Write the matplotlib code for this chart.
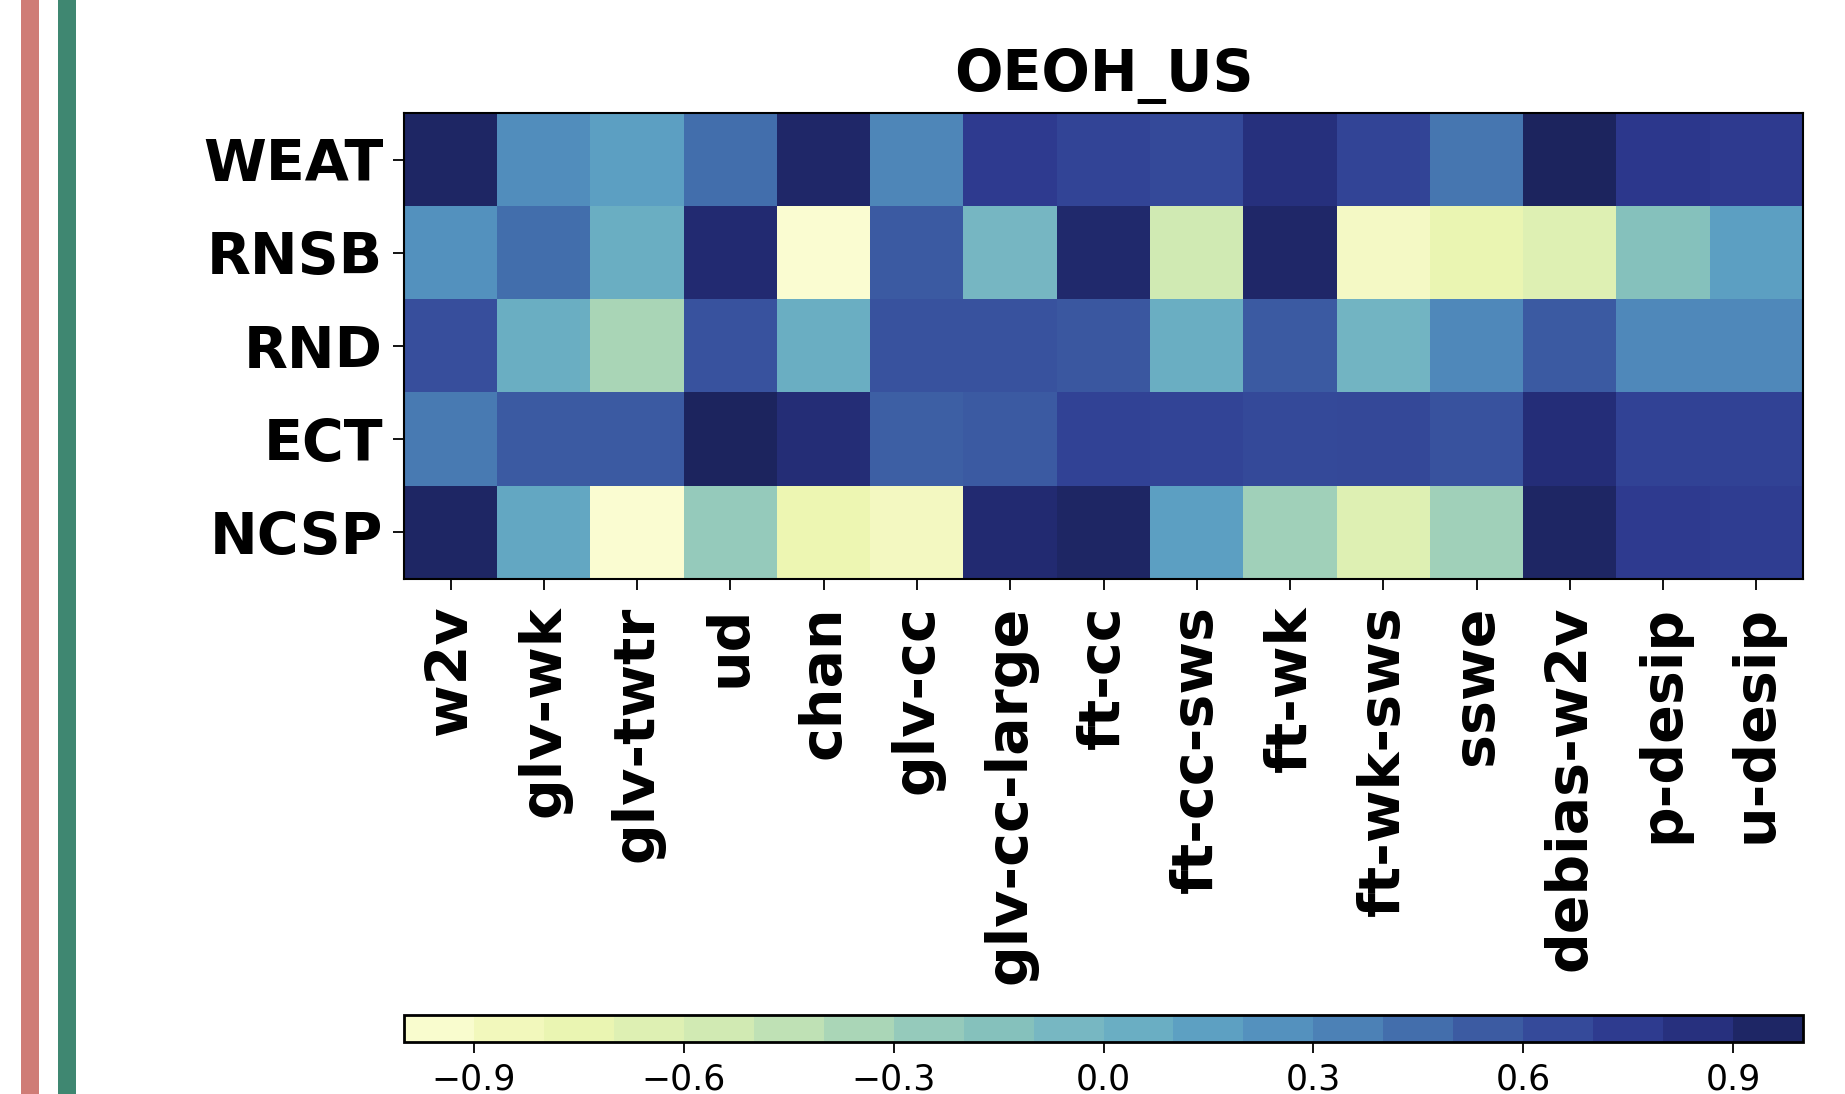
import numpy as np
import matplotlib
matplotlib.use("Agg")
import matplotlib.pyplot as plt
from matplotlib.colors import LinearSegmentedColormap
from matplotlib.patches import Rectangle

# data, rows = bias metrics, columns = embeddings
metrics = ["WEAT", "RNSB", "RND", "ECT", "NCSP"]
embeddings = ["w2v", "glv-wk", "glv-twtr", "ud", "chan", "glv-cc", "glv-cc-large",
              "ft-cc", "ft-cc-sws", "ft-wk", "ft-wk-sws", "sswe", "debias-w2v",
              "p-desip", "u-desip"]

weat = [0.95, 0.28, 0.15, 0.45, 0.93, 0.32, 0.75, 0.68, 0.65, 0.85, 0.68, 0.40, 0.97, 0.78, 0.75]
rnsb = [0.25, 0.45, 0.05, 0.90, -0.97, 0.55, -0.05, 0.92, -0.55, 0.93, -0.90, -0.75, -0.65, -0.15, 0.15]
rnd = [0.62, 0.05, -0.35, 0.60, 0.05, 0.60, 0.60, 0.57, 0.05, 0.55, -0.02, 0.30, 0.55, 0.30, 0.30]
ect = [0.38, 0.55, 0.55, 0.97, 0.88, 0.53, 0.55, 0.70, 0.68, 0.65, 0.66, 0.60, 0.87, 0.70, 0.70]
ncsp = [0.95, 0.10, -0.97, -0.25, -0.78, -0.88, 0.90, 0.95, 0.15, -0.30, -0.65, -0.30, 0.95, 0.75, 0.73]

title = "OEOH_US"
cbar_ticks = [-0.9, -0.6, -0.3, 0.0, 0.3, 0.6, 0.9]

# muted YlGnBu as it shows in the original
cmap_colors = ["#fdfed6", "#f4f9c3", "#eff7b2", "#e2f2b3", "#d5ecb3", "#c4e4b5", "#aed8b6",
               "#98ccbb", "#86c2bc", "#77b7c2", "#6aaec3", "#5c9fc2", "#5390be", "#4a7db4",
               "#416aaa", "#3a56a0", "#334597", "#2c368c", "#232c74", "#1a2258"]
cmap = LinearSegmentedColormap.from_list("muted_ylgnbu", cmap_colors)

W, H = 1845, 1094
fig = plt.figure(figsize=(W / 100, H / 100), dpi=100)

# the two coloured strips at the left edge
fig.add_artist(Rectangle((21 / W, 0), 18 / W, 1, transform=fig.transFigure,
                         color="#cf7c76", lw=0))
fig.add_artist(Rectangle((58 / W, 0), 18 / W, 1, transform=fig.transFigure,
                         color="#3f8771", lw=0))

left, right = 404 / W, 1803 / W
ax = fig.add_axes([left, 1 - 579 / H, right - left, 466 / H])
cax = fig.add_axes([left, 1 - 1042 / H, right - left, 27 / H])

data = np.array([weat, rnsb, rnd, ect, ncsp])
im = ax.imshow(data, cmap=cmap, vmin=-1, vmax=1, aspect="auto", interpolation="nearest")

ax.set_xticks(np.arange(len(embeddings)))
ax.set_xticklabels(embeddings, rotation=90, fontsize=41, fontweight="bold")
ax.set_yticks(np.arange(len(metrics)))
ax.set_yticklabels(metrics, fontsize=41, fontweight="bold")
ax.tick_params(axis="both", length=8, width=1.3, pad=7)
ax.tick_params(axis="x", pad=11)
for s in ax.spines.values():
    s.set_linewidth(1.5)
ax.set_title(title, fontsize=41, fontweight="bold", pad=16)

cb = fig.colorbar(im, cax=cax, orientation="horizontal",
                  boundaries=np.linspace(-1, 1, 21), ticks=cbar_ticks)
cb.ax.tick_params(labelsize=25, length=8, width=1.3, pad=7)
cb.outline.set_linewidth(2)

fig.savefig("out.png", dpi=100)
